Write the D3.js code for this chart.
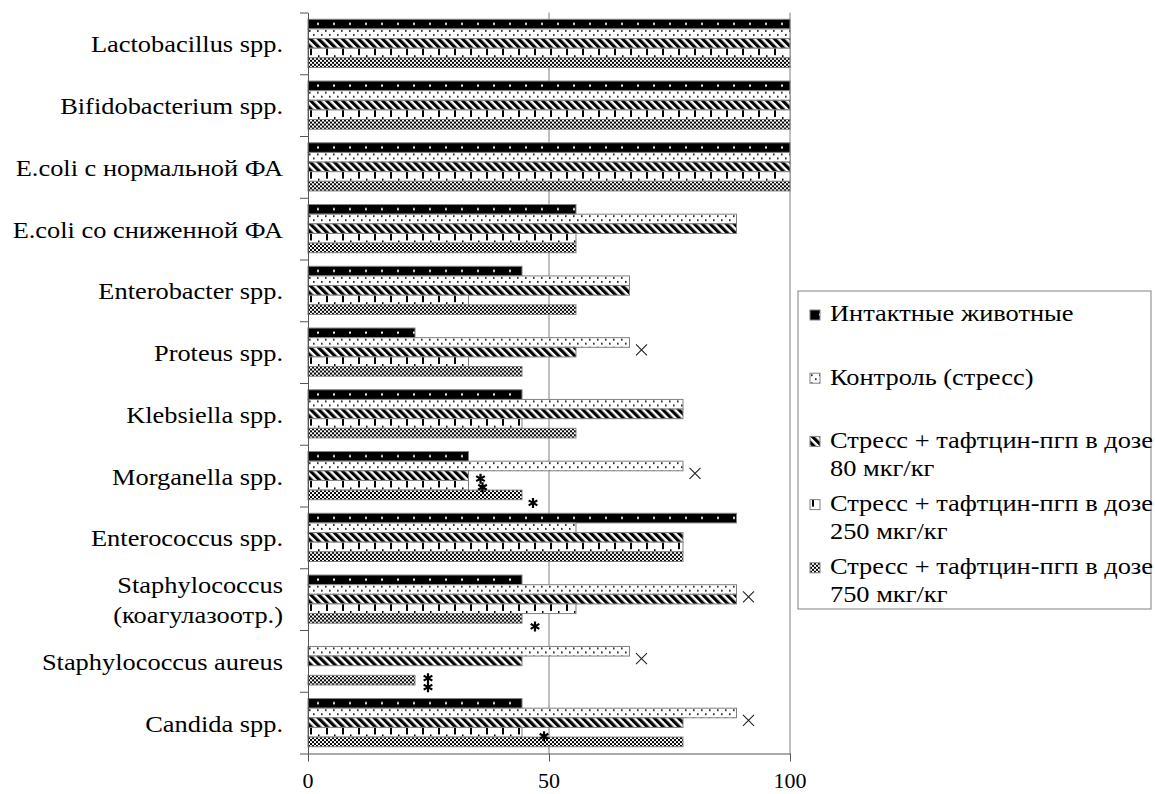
<!DOCTYPE html>
<html><head><meta charset="utf-8">
<script src="https://cdn.jsdelivr.net/npm/d3@7"></script>
</head><body style="margin:0;background:#fff">
<svg id="chart" width="1155" height="794" style="display:block"></svg>
<script>
// ---------- data ----------
const categories = [
  "Lactobacillus spp.", "Bifidobacterium spp.", "E.coli с нормальной ФА",
  "E.coli со сниженной ФА", "Enterobacter spp.", "Proteus spp.",
  "Klebsiella spp.", "Morganella spp.", "Enterococcus spp.",
  "Staphylococcus\n(коагулазоотр.)", "Staphylococcus aureus", "Candida spp."
];
const seriesNames = [
  "Интактные животные",
  "Контроль (стресс)",
  "Стресс + тафтцин-пгп в дозе\n80 мкг/кг",
  "Стресс + тафтцин-пгп в дозе\n250 мкг/кг",
  "Стресс + тафтцин-пгп в дозе\n750 мкг/кг"
];
const intact  = [100, 100, 100, 55.6, 44.4, 22.2, 44.4, 33.3, 88.9, 44.4, 0,    44.4];
const control = [100, 100, 100, 88.9, 66.7, 66.7, 77.8, 77.8, 55.6, 88.9, 66.7, 88.9];
const dose80  = [100, 100, 100, 88.9, 66.7, 55.6, 77.8, 33.3, 77.8, 88.9, 44.4, 77.8];
const dose250 = [100, 100, 100, 55.6, 33.3, 33.3, 44.4, 33.3, 77.8, 55.6, 0,    44.4];
const dose750 = [100, 100, 100, 55.6, 55.6, 44.4, 55.6, 44.4, 77.8, 44.4, 22.2, 77.8];
const xTickValues = [0, 50, 100];
// significance marks: [category index, series index]
const crossMarks = [[5, 1], [7, 1], [9, 1], [10, 1], [11, 1]];
const starMarks  = [[7, 2], [7, 3], [7, 4], [9, 4], [10, 4], [10, 4], [11, 3]];

// ---------- layout ----------
const FONT = "'Liberation Serif'";
{
  const ctx = document.createElement("canvas").getContext("2d");
  [20, 22, 23, 24].forEach(sz => {
    ctx.font = `${sz}px 'Liberation Serif', monospace`;
    ctx.measureText("Lactobacillus spp. Интактные 0123456789");
  });
}
const seriesValues = [intact, control, dose80, dose250, dose750];
const patternIds = ["pIntact", "pControl", "pDiag", "pTick", "pCheck"];
const SX = 1.1; // horizontal stretch of the reference text
const starNudge = [[12, 3], [14, 2], [11, 8], [13, 8], [13, -2], [13, 7], [22, 4]];

const svg = d3.select("#chart");
const defs = svg.append("defs");

// patterns
{
  let p = defs.append("pattern").attr("id", "pIntact").attr("patternUnits", "userSpaceOnUse")
    .attr("width", 16).attr("height", 20);
  p.append("rect").attr("width", 16).attr("height", 20).attr("fill", "#000");
  p.append("rect").attr("x", 9).attr("y", 3.6).attr("width", 2).attr("height", 2).attr("fill", "#fff");

  p = defs.append("pattern").attr("id", "pControl").attr("patternUnits", "userSpaceOnUse")
    .attr("width", 8).attr("height", 8);
  p.append("rect").attr("width", 8).attr("height", 8).attr("fill", "#fff");
  p.append("rect").attr("x", 1).attr("y", 1.2).attr("width", 1.6).attr("height", 1.6).attr("fill", "#000");
  p.append("rect").attr("x", 5).attr("y", 5.2).attr("width", 1.6).attr("height", 1.6).attr("fill", "#000");

  p = defs.append("pattern").attr("id", "pDiag").attr("patternUnits", "userSpaceOnUse")
    .attr("width", 5.657).attr("height", 10).attr("patternTransform", "rotate(-45)");
  p.append("rect").attr("width", 5.657).attr("height", 10).attr("fill", "#fff");
  p.append("rect").attr("width", 3.2).attr("height", 10).attr("fill", "#000");

  p = defs.append("pattern").attr("id", "pTick").attr("patternUnits", "userSpaceOnUse")
    .attr("width", 16).attr("height", 20);
  p.append("rect").attr("width", 16).attr("height", 20).attr("fill", "#fff");
  p.append("rect").attr("x", 2).attr("y", 0).attr("width", 2).attr("height", 7).attr("fill", "#000");
  p.append("rect").attr("x", 10).attr("y", 7).attr("width", 1.5).attr("height", 2).attr("fill", "#000");

  p = defs.append("pattern").attr("id", "pCheck").attr("patternUnits", "userSpaceOnUse")
    .attr("width", 4).attr("height", 4);
  p.append("rect").attr("width", 4).attr("height", 4).attr("fill", "#fff");
  p.append("rect").attr("width", 2).attr("height", 2).attr("fill", "#000");
  p.append("rect").attr("x", 2).attr("y", 2).attr("width", 2).attr("height", 2).attr("fill", "#000");
}

const plot = {left: 308, right: 790, top: 12.5, bottom: 753.5};
const x = d3.scaleLinear().domain([0, 100]).range([plot.left, plot.right]);
const y = d3.scaleBand().domain(d3.range(categories.length)).range([plot.top, plot.bottom])
  .paddingInner(0.22).paddingOuter(0.11);
const ys = d3.scaleBand().domain(d3.range(seriesNames.length)).range([0, y.bandwidth()]);
const yIdx = d3.scaleLinear().domain([0, categories.length]).range([plot.top, plot.bottom]);

// gridlines
svg.append("g").selectAll("line").data(xTickValues.filter(v => v > 0)).join("line")
  .attr("x1", d => x(d)).attr("x2", d => x(d))
  .attr("y1", plot.top).attr("y2", plot.bottom)
  .attr("stroke", "#808080").attr("stroke-width", 1);

// bars
const rows = [];
categories.forEach((c, i) => seriesValues.forEach((vals, s) => {
  if (vals[i] > 0) rows.push({i, s, v: vals[i]});
}));
svg.append("g").selectAll("g").data(rows).join("g")
  .attr("transform", d => `translate(${x(0)},${y(d.i) + ys(d.s)})`)
  .append("rect")
  .attr("width", d => x(d.v) - x(0))
  .attr("height", ys.bandwidth())
  .attr("fill", d => `url(#${patternIds[d.s]})`)
  .attr("stroke", "#808080").attr("stroke-width", 1);

// left axis (category boundaries)
const leftAxis = svg.append("g").attr("transform", `translate(${x(0)},0)`)
  .call(d3.axisLeft(yIdx).tickValues(d3.range(categories.length + 1)).tickFormat("")
    .tickSizeInner(8).tickSizeOuter(0));
leftAxis.selectAll("path,line").attr("stroke", "#555");

// bottom axis
const bottomAxis = svg.append("g").attr("transform", `translate(0,${plot.bottom})`)
  .call(d3.axisBottom(x).tickValues(xTickValues).tickFormat("")
    .tickSizeInner(8).tickSizeOuter(0));
bottomAxis.selectAll("path,line").attr("stroke", "#555");
bottomAxis.selectAll("text").remove();
svg.append("g").selectAll("text").data(xTickValues).join("text")
  .attr("x", d => x(d)).attr("y", 788)
  .attr("font-family", FONT).attr("font-size", 22)
  .attr("text-anchor", "middle").attr("fill", "#000")
  .text(d => d3.format("d")(d));

// category labels
categories.forEach((c, i) => {
  const lines = c.split("\n");
  const cy = y(i) + y.bandwidth() / 2;
  lines.forEach((ln, k) => {
    const by = cy + 9 - (lines.length - 1) * 15 + k * 30;
    svg.append("text")
      .attr("x", 283 / SX).attr("y", by)
      .attr("transform", `scale(${SX},1)`)
      .attr("font-family", FONT)
      .attr("text-anchor", "end").attr("font-size", 24).text(ln);
  });
});

// cross marks
const crossG = svg.append("g");
crossMarks.forEach(([i, s]) => {
  const cx = x(seriesValues[s][i]) + 12;
  const cy = y(i) + ys(s) + ys.bandwidth() + 2.5;
  crossG.append("path")
    .attr("d", `M${cx - 5.5},${cy - 5.5}L${cx + 5.5},${cy + 5.5}M${cx - 5.5},${cy + 5.5}L${cx + 5.5},${cy - 5.5}`)
    .attr("stroke", "#222").attr("stroke-width", 1.1).attr("fill", "none");
});

// asterisks
const starG = svg.append("g");
starMarks.forEach(([i, s], k) => {
  const cx = x(seriesValues[s][i]) + starNudge[k][0];
  const cy = y(i) + ys(s) + ys.bandwidth() / 2 + starNudge[k][1];
  const r = 5, t = r / 2, u = t * Math.sqrt(3);
  starG.append("path")
    .attr("d", `M${cx},${cy - r}L${cx},${cy + r}M${cx - u},${cy - t}L${cx + u},${cy + t}M${cx - u},${cy + t}L${cx + u},${cy - t}`)
    .attr("stroke", "#000").attr("stroke-width", 2.2).attr("fill", "none");
});

// legend
const legend = {x: 798, y: 291, w: 353, h: 318};
svg.append("rect").attr("x", legend.x).attr("y", legend.y).attr("width", legend.w).attr("height", legend.h)
  .attr("fill", "#fff").attr("stroke", "#808080").attr("stroke-width", 1);
seriesNames.forEach((name, s) => {
  const base = legend.y + 30.5 + s * 63.2;
  svg.append("g").attr("transform", `translate(810,${base - 11.5})`)
    .append("rect").attr("width", 10).attr("height", 10)
    .attr("fill", `url(#${patternIds[s]})`).attr("stroke", "#808080").attr("stroke-width", 1);
  name.split("\n").forEach((ln, k) => {
    svg.append("text")
      .attr("x", 830 / SX).attr("y", base + k * 28)
      .attr("transform", `scale(${SX},1)`)
      .attr("font-family", FONT)
      .attr("font-size", 24).text(ln);
  });
});
</script>
</body></html>
